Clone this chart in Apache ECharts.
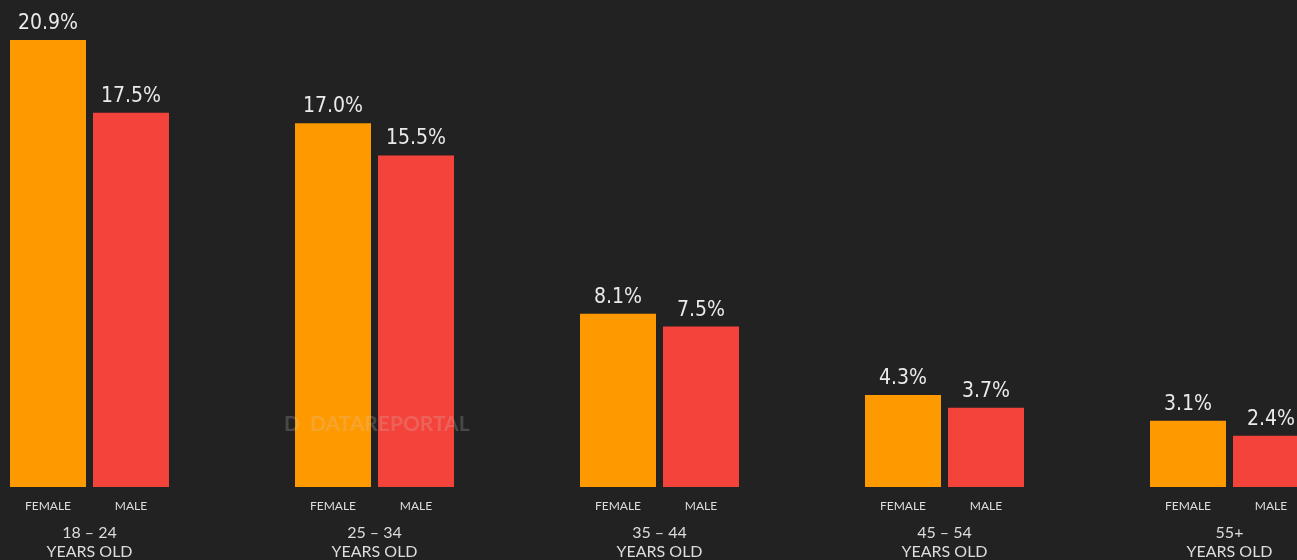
<!DOCTYPE html>
<html>
<head>
<meta charset="utf-8">
<script src="https://cdn.jsdelivr.net/npm/echarts@6/dist/echarts.min.js"></script>
<style>
html,body{margin:0;padding:0;background:#222222;}
#c{width:1297px;height:560px;}
</style>
</head>
<body>
<div id="c"></div>
<script>
const ageGroups = ['18 – 24', '25 – 34', '35 – 44', '45 – 54', '55+'];
const groupSuffix = 'YEARS OLD';
const sexLabels = ['FEMALE', 'MALE'];
const femaleValues = [20.9, 17.0, 8.1, 4.3, 3.1];
const maleValues = [17.5, 15.5, 7.5, 3.7, 2.4];

const chart = echarts.init(document.getElementById('c'));
const valueLabel = {
  show: true,
  position: 'top',
  distance: 6,
  color: '#eaeaea',
  fontFamily: "'DejaVu Sans Condensed', 'Liberation Sans Narrow', sans-serif",
  fontSize: 21,
  formatter: p => p.value.toFixed(1) + '%'
};
const commonAxis = {
  type: 'category',
  data: ageGroups,
  boundaryGap: false,
  axisLine: { show: false },
  axisTick: { show: false },
  splitLine: { show: false }
};
chart.setOption({
  backgroundColor: '#222222',
  animation: false,
  grid: { left: 89.5, right: 67.5, top: 16.4, bottom: 73, containLabel: false, outerBoundsMode: 'none' },
  xAxis: [
    Object.assign({}, commonAxis, {
      position: 'bottom',
      axisLabel: {
        margin: 12,
        interval: 0,
        hideOverlap: false,
        formatter: () => '{s|' + sexLabels[0] + '}{s|' + sexLabels[1] + '}',
        rich: {
          s: { width: 83, align: 'center', lineHeight: 14, fontSize: 12, fontFamily: 'Lato', color: '#dddddd' }
        }
      }
    }),
    Object.assign({}, commonAxis, {
      position: 'bottom',
      axisLabel: {
        margin: 36.5,
        interval: 0,
        hideOverlap: false,
        lineHeight: 19,
        fontSize: 16,
        fontFamily: 'Lato',
        color: '#dddddd',
        formatter: v => v + '\n' + groupSuffix
      }
    })
  ],
  yAxis: {
    type: 'value', min: 0, max: 22,
    show: false,
    splitLine: { show: false }
  },
  graphic: [{
    type: 'text',
    left: 284, top: 414, z: 100,
    style: { text: 'D', fontSize: 21, fontWeight: 'bold', fontFamily: 'Lato', fill: 'rgba(210,210,210,0.22)' }
  }, {
    type: 'text',
    left: 310, top: 414, z: 100,
    style: { text: 'DATAREPORTAL', fontSize: 21, fontWeight: 'bold', fontFamily: 'Lato', fill: 'rgba(210,210,210,0.22)' }
  }],
  series: [
    { name: 'FEMALE', type: 'bar', data: femaleValues, barWidth: 76, barGap: '9.2%', clip: false,
      itemStyle: { color: '#FF9900' }, label: valueLabel },
    { name: 'MALE', type: 'bar', data: maleValues, barWidth: 76, clip: false,
      itemStyle: { color: '#F4433A' }, label: valueLabel }
  ]
});
</script>
</body>
</html>
